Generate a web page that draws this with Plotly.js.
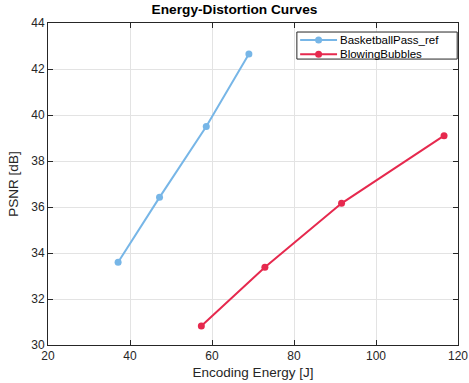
<!DOCTYPE html>
<html><head><meta charset="utf-8">
<script src="https://cdn.plot.ly/plotly-3.0.1.min.js"></script>
<style>html,body{margin:0;padding:0;background:#fff}#c{width:469px;height:383px}</style>
</head><body><div id="c"></div>
<script>
const seriesNames = ["BasketballPass_ref", "BlowingBubbles"];
const basketEnergy = [37.1, 47.2, 58.6, 69.0];
const basketPSNR = [33.6, 36.42, 39.5, 42.65];
const bubblesEnergy = [57.4, 72.9, 91.6, 116.6];
const bubblesPSNR = [30.83, 33.38, 36.16, 39.1];
const xTicks = [20, 40, 60, 80, 100, 120];
const yTicks = [30, 32, 34, 36, 38, 40, 42, 44];
const colors = ["#77B6E7", "#E6294E"];

const FONT = "Liberation Sans, Arial, sans-serif";
const traces = [
  {x: basketEnergy, y: basketPSNR, name: seriesNames[0], mode: "lines+markers",
   line: {color: colors[0], width: 2}, marker: {color: colors[0], size: 7}},
  {x: bubblesEnergy, y: bubblesPSNR, name: seriesNames[1], mode: "lines+markers",
   line: {color: colors[1], width: 2}, marker: {color: colors[1], size: 7}}
];

// custom compact legend (MATLAB style)
const shapes = [{type: "rect", xref: "paper", yref: "paper", x0: 0.607, x1: 0.998, y0: 0.888, y1: 0.972,
  fillcolor: "#fff", line: {color: "#262626", width: 1}, layer: "above"}];
const annotations = [];
const rowY = [0.947, 0.903];
seriesNames.forEach((n, i) => {
  shapes.push({type: "line", xref: "paper", yref: "paper", x0: 0.615, x1: 0.705, y0: rowY[i], y1: rowY[i],
    line: {color: colors[i], width: 2}, layer: "above"});
  shapes.push({type: "circle", xref: "paper", yref: "paper", xsizemode: "pixel", ysizemode: "pixel",
    xanchor: 0.66, yanchor: rowY[i], x0: -3.5, x1: 3.5, y0: -3.5, y1: 3.5,
    fillcolor: colors[i], line: {color: colors[i], width: 0}, layer: "above"});
  annotations.push({xref: "paper", yref: "paper", x: 0.708, y: rowY[i], xanchor: "left", yanchor: "middle",
    text: n, showarrow: false, font: {family: FONT, size: 11.5, color: "#000"}});
});

const axisCommon = {
  showline: true, linecolor: "#262626", linewidth: 1, mirror: "ticks",
  ticks: "inside", ticklen: 5, tickcolor: "#262626", tickwidth: 1,
  showgrid: true, gridcolor: "#e3e3e3", gridwidth: 1, zeroline: false,
  tickfont: {family: FONT, size: 12, color: "#262626"}
};
const layout = {
  width: 469, height: 383,
  margin: {l: 48, r: 11, t: 23, b: 38},
  paper_bgcolor: "#fff", plot_bgcolor: "#fff",
  title: {text: "<b>Energy-Distortion Curves</b>", x: 0.5, xanchor: "center", y: 0.988, yanchor: "top",
    font: {family: FONT, size: 13.7, color: "#000"}},
  xaxis: Object.assign({}, axisCommon, {range: [20, 120], tickvals: xTicks, ticktext: xTicks.map(String),
    title: {text: "Encoding Energy [J]", standoff: 5, font: {family: FONT, size: 13.5, color: "#262626"}}}),
  yaxis: Object.assign({}, axisCommon, {range: [30, 44], tickvals: yTicks, ticktext: yTicks.map(String),
    title: {text: "PSNR [dB]", standoff: 9, font: {family: FONT, size: 13.5, color: "#262626"}}}),
  showlegend: false,
  shapes: shapes,
  annotations: annotations
};
Plotly.newPlot("c", traces, layout, {displayModeBar: false, staticPlot: true});
</script></body></html>
